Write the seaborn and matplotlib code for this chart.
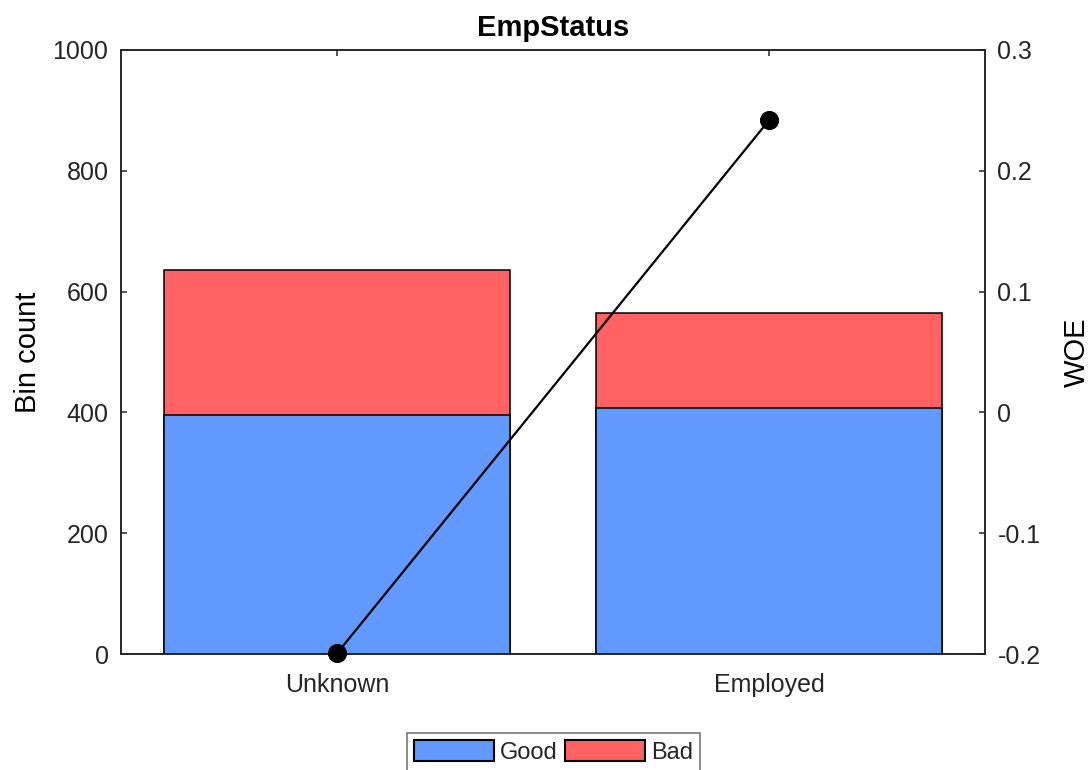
import numpy as np
import pandas as pd
import matplotlib
matplotlib.use("Agg")
import matplotlib.pyplot as plt
import seaborn as sns
from matplotlib.patches import Patch
from matplotlib.ticker import FuncFormatter

categories = ["Unknown", "Employed"]
good = [396, 407]
bad = [239, 158]
woe = [-0.19947, 0.24184]

left_ticks = [0, 200, 400, 600, 800, 1000]
right_ticks = [-0.2, -0.1, 0.0, 0.1, 0.2, 0.3]

sns.set_theme(style="white")
plt.rcParams["font.family"] = ["Liberation Sans", "DejaVu Sans"]

FS = 18
FSL = 21
TXT = "#262626"
BLUE = "#6199FF"
RED = "#FF6262"

df = pd.DataFrame({
    "cat": categories,
    "good": good,
    "total": [g + b for g, b in zip(good, bad)],
})

fig = plt.figure(figsize=(10.9, 7.7), dpi=100)
ax = fig.add_axes([121/1090, 1 - 654/770, (985-121)/1090, (654-50)/770])

sns.barplot(data=df, x="cat", y="total", order=categories, color=RED,
            saturation=1, width=0.8, edgecolor="black", linewidth=1.1, ax=ax)
sns.barplot(data=df, x="cat", y="good", order=categories, color=BLUE,
            saturation=1, width=0.8, edgecolor="black", linewidth=1.1, ax=ax)

ax.set_xlim(-0.5, 1.5)
ax.set_ylim(0, 1000)
ax.set_yticks(left_ticks)
ax.set_xlabel("")
ax.set_ylabel("Bin count", fontsize=FSL, color="black", labelpad=8)
ax.set_title("EmpStatus", fontsize=FSL, fontweight="bold", color="black", pad=10)
ax.tick_params(axis="both", which="both", direction="in", length=4, width=1.1,
               labelsize=FS, colors=TXT, top=True, bottom=True, left=True, right=False)
ax.tick_params(axis="x", pad=14)
ax.tick_params(axis="y", pad=9)
for s in ax.spines.values():
    s.set_color(TXT)
    s.set_linewidth(1.2)
    s.set_visible(True)

ax2 = ax.twinx()
sns.lineplot(x=np.arange(len(categories)), y=woe, color="black", linewidth=1.6,
             marker="o", markersize=13, markeredgecolor="black", ax=ax2,
             clip_on=False, zorder=5)
ax2.set_ylim(-0.2, 0.3)
ax2.set_yticks(right_ticks)
ax2.yaxis.set_major_formatter(FuncFormatter(lambda v, p: "0" if abs(v) < 1e-9 else f"{v:g}"))
ax2.set_ylabel("WOE", fontsize=FSL, color="black", labelpad=16)
ax2.tick_params(axis="y", direction="in", length=4, width=1.1, labelsize=FS,
                colors=TXT, pad=9)
for s in ax2.spines.values():
    s.set_color(TXT)
    s.set_linewidth(1.2)
ax.set_xlim(-0.5, 1.5)

handles = [Patch(facecolor=BLUE, edgecolor="black", linewidth=1.5, label="Good"),
           Patch(facecolor=RED, edgecolor="black", linewidth=1.5, label="Bad")]
leg = fig.legend(handles=handles, loc="upper center", bbox_to_anchor=(0.508, 1 - 733/770),
                 ncol=2, fontsize=17, frameon=True, fancybox=False,
                 edgecolor="#555555", handlelength=3.4, handleheight=1.0,
                 columnspacing=0.3, handletextpad=0.25, borderpad=0.3, borderaxespad=0)
leg.get_frame().set_linewidth(1.2)

fig.savefig("out.png", dpi=100)
